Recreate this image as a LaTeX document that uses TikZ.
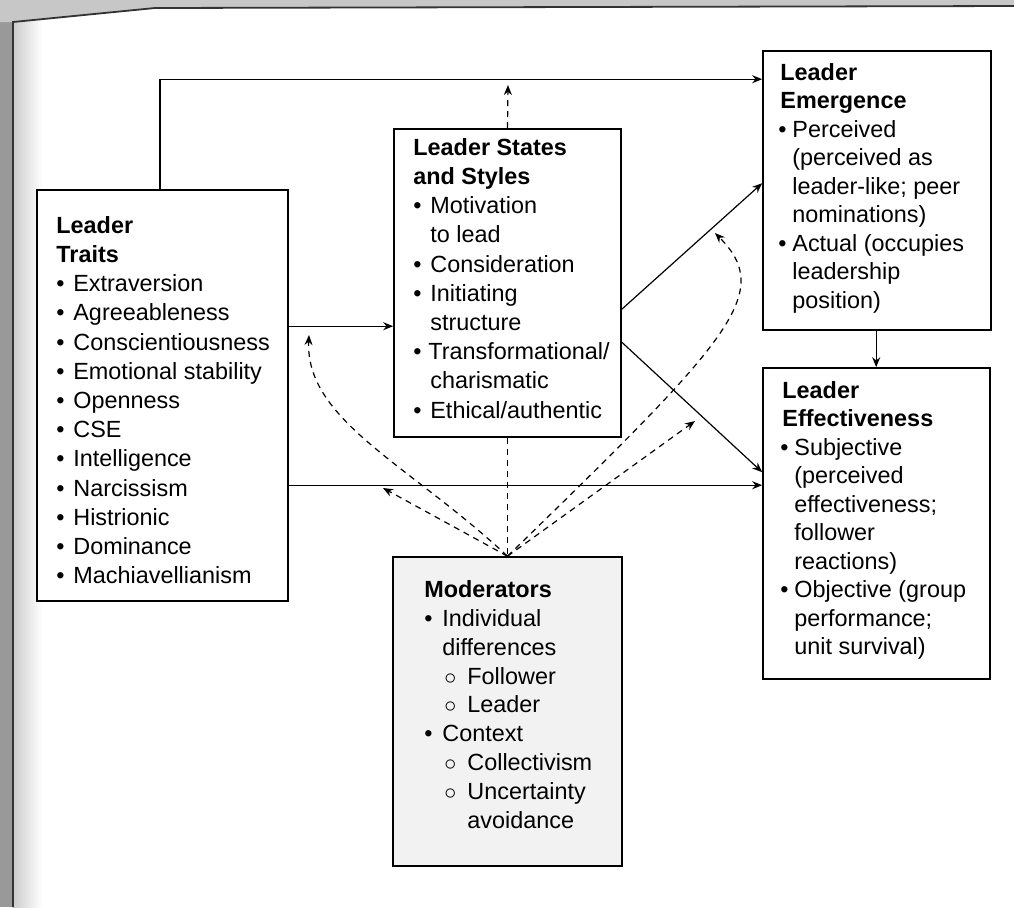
\documentclass[tikz,border=0pt]{standalone}
\usepackage{fontspec}
\setmainfont{Liberation Sans}
\usetikzlibrary{arrows.meta,fit,calc}
\newcommand{\myb}[2]{\makebox[#1][l]{\textbullet}#2}
\newcommand{\mysub}[1]{\hspace*{9pt}\makebox[12.5pt][l]{\hspace{1pt}$\circ$}#1}
\begin{document}
\begin{tikzpicture}[x=0.5pt,y=-0.5pt,
  box/.style={draw, line width=0.8pt, inner sep=0pt},
  txt/.style={anchor=north west, inner sep=0pt, align=left},
  tA/.style={txt, font=\fontsize{11.7}{14.6}\selectfont},
  tB/.style={txt, font=\fontsize{11.7}{14.25}\selectfont},
  arr/.style={line width=0.6pt, -{Stealth[length=5pt,width=4pt]}},
  dsh/.style={arr, dash pattern=on 3pt off 2.5pt},
  dln/.style={line width=0.6pt, dash pattern=on 3pt off 2.5pt},
]
\useasboundingbox (0,0) rectangle (1014,907);
% page background (scan edge)
\fill[black!40] (0,0) rectangle (13,907);
\shade[left color=black!20, right color=white] (13,0) rectangle (42,907);
\fill[black!22] (0,0) -- (1014,0) -- (1014,6) -- (155,8) -- (13,22) -- (0,22) -- cycle;
\draw[line width=0.9pt, black!80] (13,907) -- (13,22) -- (155,8) -- (1014,6);

% boxes
\node[box, fill=white, fit={(37,190) (288,601)}] (traits) {};
\node[box, fit={(394,129) (621,437)}] (states) {};
\node[box, fit={(763,51) (991,330)}] (emerg) {};
\node[box, fit={(763,368) (990,679)}] (eff) {};
\node[box, fill=black!5, fit={(393,557) (622,866)}] (mods) {};

% texts
\node[tA] (ttraits) at (56,216) {\textbf{Leader}\\\textbf{Traits}\\
\myb{8.5pt}{Extraversion}\\\myb{8.5pt}{Agreeableness}\\\myb{8.5pt}{Conscientiousness}\\
\myb{8.5pt}{Emotional stability}\\\myb{8.5pt}{Openness}\\\myb{8.5pt}{CSE}\\
\myb{8.5pt}{Intelligence}\\\myb{8.5pt}{Narcissism}\\\myb{8.5pt}{Histrionic}\\
\myb{8.5pt}{Dominance}\\\myb{8.5pt}{Machiavellianism}};

\node[tA] (tstates) at (413,138) {\textbf{Leader States}\\\textbf{and Styles}\\
\myb{8.5pt}{Motivation}\\\hspace*{8.5pt}to lead\\\myb{8.5pt}{Consideration}\\
\myb{8.5pt}{Initiating}\\\hspace*{8.5pt}structure\\\myb{7.5pt}{Transformational/}\\
\hspace*{8.5pt}charismatic\\\myb{8.5pt}{Ethical/authentic}};

\node[tB] (temerg) at (780,63) {\textbf{Leader}\\\textbf{Emergence}\\
\hspace*{-1pt}\myb{7pt}{Perceived}\\\hspace*{6pt}(perceived as\\\hspace*{6pt}leader-like; peer\\
\hspace*{6pt}nominations)\\\hspace*{-1pt}\myb{7pt}{Actual (occupies}\\\hspace*{6pt}leadership\\
\hspace*{6pt}position)};

\node[tB] (teff) at (782,381) {\textbf{Leader}\\\textbf{Effectiveness}\\
\hspace*{-1pt}\myb{7pt}{Subjective}\\\hspace*{6pt}(perceived\\\hspace*{6pt}effectiveness;\\
\hspace*{6pt}follower\\\hspace*{6pt}reactions)\\\hspace*{-1pt}\myb{7pt}{Objective (group}\\
\hspace*{6pt}performance;\\\hspace*{6pt}unit survival)};

\node[tA, font=\fontsize{11.7}{14.45}\selectfont] (tmods) at (424,580) {\textbf{Moderators}\\
\myb{9pt}{Individual}\\\hspace*{9pt}differences\\\mysub{Follower}\\\mysub{Leader}\\
\myb{9pt}{Context}\\\mysub{Collectivism}\\\mysub{Uncertainty}\\\hspace*{21.5pt}avoidance};

% end points on lines (targets of moderating arrows)
\coordinate (m1) at (309,335);
\coordinate (m2) at (383,488);
\coordinate (m3) at (695,421);
\coordinate (m4) at (715,233);
\coordinate (m5) at (508,85);

% solid connectors
\draw[arr] ($(traits.north west)!0.49!(traits.north east)$) |- ($(emerg.north west)+(0,29)$);
\draw[arr] ($(traits.north east)+(0,137)$) -- ($(states.north west)+(0,198)$);
\draw[arr] ($(traits.north east)+(0,296)$) -- ($(eff.north west)+(0,118)$);
\draw[arr] ($(states.north east)+(0,181)$) -- ($(emerg.north west)+(0,133)$);
\draw[arr] ($(states.north east)+(0,214)$) -- ($(eff.north west)+(0,105)$);
\draw[arr] ($(emerg.south west)+(114,0)$) -- ($(eff.north west)+(114,0)$);

% dashed connectors
\draw[dsh] (states.north) -- (m5);
\draw[dln] (states.south) -- (mods.north);
\draw[dsh] (mods.north) .. controls (410,465) and (305,420) .. (m1);
\draw[dsh] (mods.north) -- (m2);
\draw[dsh] (mods.north) -- (m3);
\draw[dsh] (mods.north) .. controls (730,340) and (775,293) .. (m4);
\end{tikzpicture}
\end{document}
